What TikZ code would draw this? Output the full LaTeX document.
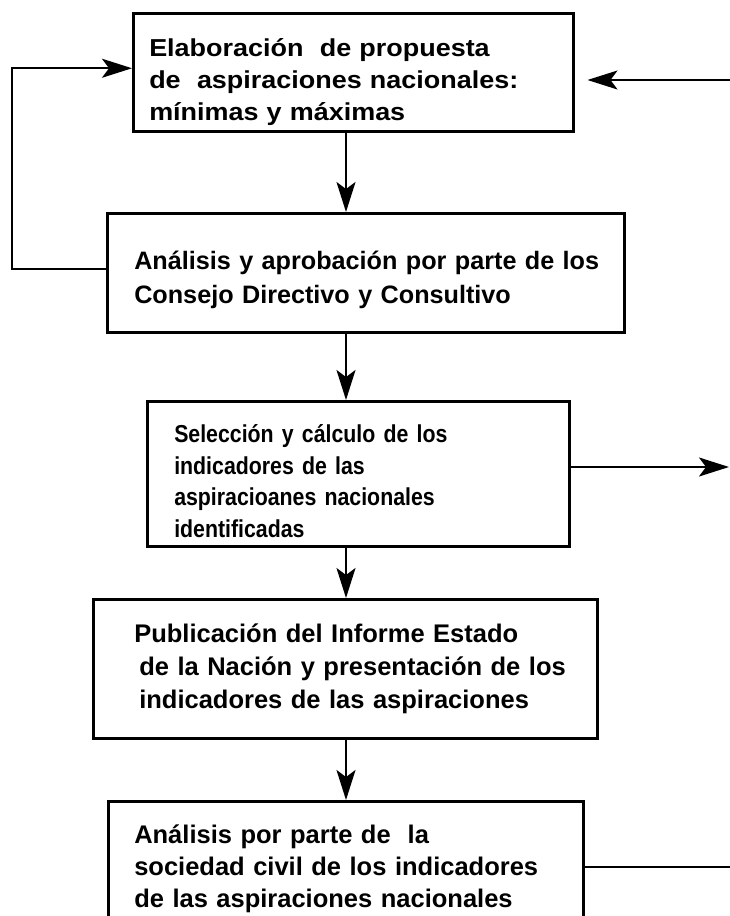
\documentclass[tikz,border=0pt]{standalone}
\usepackage{fontspec}
\setmainfont{Liberation Sans}
\newfontfamily\wideface[FakeStretch=1.1]{Liberation Sans}
\newfontfamily\narrowface[FakeStretch=0.87]{Liberation Sans}
\usetikzlibrary{arrows.meta}

\tikzset{
  stagebox/.style={draw, line width=2.5pt, rectangle, align=left,
    font=\fontsize{25.5}{33}\selectfont\bfseries, inner ysep=0pt},
  flowarr/.style={line width=2pt, -{Stealth[length=30pt,width=19pt,inset=7pt]}},
  thinarr/.style={line width=1.2pt, -{Stealth[length=30pt,width=19pt,inset=7pt]}}
}

\begin{document}
\begin{tikzpicture}[x=1pt,y=-1pt]
		%%%%% START %%%%%
		\useasboundingbox (0,0) rectangle (730,916);
		
		\node[stagebox, anchor=north west, inner xsep=16pt, text width=408pt, minimum height=118pt,
			font=\fontsize{24.5}{32}\selectfont\wideface\bfseries] (elab) at (132,12)
			{\mbox{\rule{0pt}{38pt}Elaboración\ \ de propuesta}\\\mbox{de\ \ aspiraciones nacionales:}\\\mbox{mínimas y máximas}};
		\node[stagebox, anchor=north west, inner xsep=27pt, text width=463pt, minimum height=119pt,
			font=\fontsize{25.2}{34}\selectfont\bfseries] (apro) at (106,212)
			{\mbox{\rule{0pt}{33pt}Análisis y aprobación por parte de los}\\\mbox{Consejo Directivo y Consultivo}};
		\node[stagebox, anchor=north west, inner xsep=27pt, text width=368pt, minimum height=145pt,
			font=\fontsize{24.5}{31.5}\selectfont\narrowface\bfseries] (sele) at (146,400)
			{\mbox{\rule{0pt}{33pt}Selección y cálculo de los}\\\mbox{indicadores de las}\\\mbox{aspiracioanes nacionales}\\\mbox{identificadas}};
		\node[stagebox, anchor=north west, inner xsep=41pt, text width=422pt, minimum height=139pt] (publ) at (92,598)
			{\mbox{Publicación del Informe Estado}\\\mbox{\hspace*{5pt}de la Nación y presentación de los}\\\mbox{\hspace*{5pt}indicadores de las aspiraciones}};
		\node[stagebox, anchor=north west, inner xsep=26pt, text width=423pt, minimum height=136pt,
			font=\fontsize{25.5}{32}\selectfont\bfseries] (soci) at (107,800)
			{\mbox{Análisis por parte de\ \ la}\\\mbox{sociedad civil de los indicadores}\\\mbox{de las aspiraciones nacionales}};
		
		\coordinate (axis) at (346,0);
		\coordinate (inR) at (730,80);
		\coordinate (outR) at (729,467);
		\coordinate (outS) at (730,867);
		
		\draw[flowarr] (elab.south -| axis) -- (apro.north -| axis);
		\draw[flowarr] (apro.south -| axis) -- (sele.north -| axis);
		\draw[flowarr] (sele.south -| axis) -- (publ.north -| axis);
		\draw[flowarr] (publ.south -| axis) -- (soci.north -| axis);
		
		\draw[flowarr] ([yshift=4pt]apro.west) -- ++(-94,0) |- ([yshift=4pt]elab.west);
		\draw[thinarr] (inR) -- ([xshift=13pt]elab.east |- inR);
		\draw[flowarr] (sele.east |- outR) -- (outR);
		\draw[line width=1.2pt] (soci.east |- outS) -- (outS);
		
		%%%%% END %%%%%
\end{tikzpicture}
\end{document}
